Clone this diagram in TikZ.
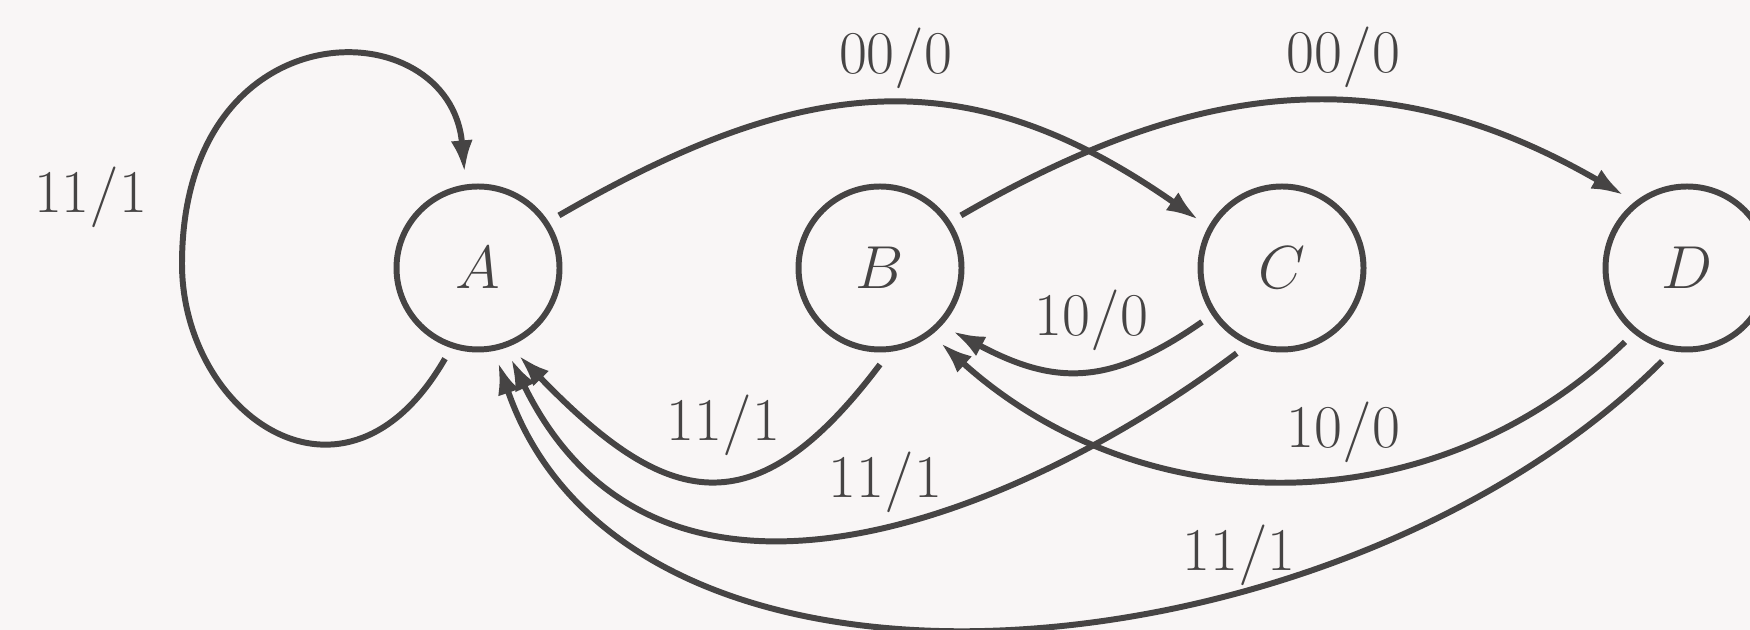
\documentclass[tikz,border=0pt]{standalone}
\usepackage{xcolor}
\usetikzlibrary{arrows.meta,positioning}
\definecolor{ink}{RGB}{70,68,68}
\definecolor{paper}{RGB}{249,246,246}

\begin{document}
\begin{tikzpicture}[
  font=\LARGE,
  >={Latex[length=3.2mm,width=2.2mm]},
  state/.style={circle,draw=ink,line width=1.7pt,minimum size=1.63cm,
    inner sep=0pt,outer sep=1.5mm,text=ink},
  arr/.style={->,line width=1.7pt,draw=ink},
  lbl/.style={text=ink}
]
\path[use as bounding box,fill=paper] (0,0) rectangle (17.5,6.3);

\node[state] (A) at (4.78,3.62) {$A$};
\node[state,right=2.09cm of A] (B) {$B$};
\node[state,right=2.09cm of B] (C) {$C$};
\node[state,right=2.12cm of C] (D) {$D$};
\coordinate (loopL) at (1.82,3.66);

% self loop on A
\draw[arr] (A.250) to[out=240,in=-90,out distance=2cm,in distance=1.5cm] (loopL)
  node[lbl,left=2mm,yshift=6.7mm] {$11/1$}
  to[out=90,in=95,out distance=2.6cm,in distance=1.65cm] (A.98);

% 00 transitions
\draw[arr] (A.33) to[out=30,in=145,looseness=1.13] node[lbl,above,pos=0.52] {$00/0$} (C.150);
\draw[arr] (B.33) to[out=30,in=150,looseness=1.06] node[lbl,above,pos=0.58] {$00/0$} (D.131);

% 10 transitions
\draw[arr] (C.214) to[out=215,in=-28,looseness=1.17] node[lbl,above,pos=0.45,yshift=0.5mm] {$10/0$} (B.319);
\draw[arr] (D.230) to[out=224,in=318,looseness=1.01] node[lbl,above,pos=0.42] {$10/0$} (B.309);

% 11 transitions
\draw[arr] (B.270) to[out=233,in=314,looseness=1.49] node[lbl,above,pos=0.45,yshift=1mm] {$11/1$} (A.295);
\draw[arr] (C.242) to[out=217,in=296,out distance=2.6cm,in distance=3.45cm]
  node[lbl,above,pos=0.46,yshift=-0.3mm] {$11/1$} (A.290);
\draw[arr] (D.255) to[out=225,in=289,out distance=4.5cm,in distance=4.1cm]
  node[lbl,above,pos=0.34,yshift=-0.9mm] {$11/1$} (A.282);
\end{tikzpicture}
\end{document}
